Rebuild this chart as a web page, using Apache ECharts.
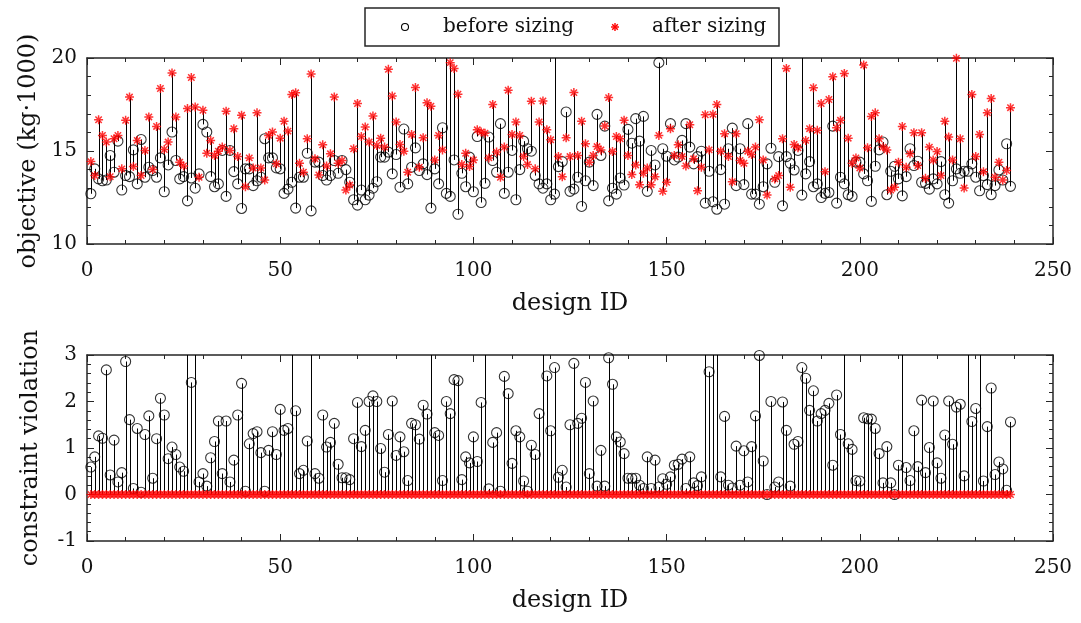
<!DOCTYPE html>
<html><head><meta charset="utf-8">
<script src="https://cdn.jsdelivr.net/npm/echarts@6/dist/echarts.min.js"></script>
<style>html,body{margin:0;padding:0;background:#fff}#c{width:1081px;height:623px}</style>
</head><body><div id="c"></div><script>
// objective (kg·1000) before sizing, design 1..239
const objBefore = [12.7,14.04,13.5,13.4,13.44,14.76,13.86,15.53,12.9,13.68,13.62,15.06,13.23,15.62,13.59,14.13,13.95,13.59,14.63,12.81,
14.25,16.02,14.49,13.5,13.62,12.32,13.55,13.0,13.77,16.43,16.02,13.62,13.08,13.23,15.03,12.56,15.03,13.89,13.23,11.91,
14.04,14.04,13.14,13.4,13.59,15.66,14.63,14.63,14.09,14.04,12.72,12.95,13.32,11.93,13.59,13.59,14.88,11.78,14.4,14.4,
13.68,13.44,13.68,14.49,13.8,14.49,14.0,13.32,12.38,12.09,12.9,12.38,12.63,13.0,13.35,14.67,14.67,14.94,13.77,14.81,
13.05,16.18,13.23,14.13,15.17,13.95,14.31,13.73,11.93,14.04,13.23,16.25,12.72,12.56,14.52,11.6,13.8,13.08,14.67,12.81,
15.78,12.23,13.26,15.75,14.49,13.86,16.47,12.72,13.86,15.03,12.38,14.0,15.53,15.12,14.99,13.68,13.23,13.0,13.23,12.38,
12.68,14.16,14.43,17.1,12.83,12.95,13.59,12.02,13.4,14.4,13.14,16.97,14.76,16.34,12.32,13.0,12.68,13.55,13.17,16.16,
15.42,16.74,15.53,16.86,12.83,15.03,14.25,19.75,15.12,14.72,16.47,14.52,14.67,15.57,16.47,15.21,14.31,14.7,14.99,12.2,
13.91,12.27,11.87,14.0,12.14,15.12,16.23,13.14,15.12,13.19,16.47,12.68,12.68,12.14,13.08,14.31,15.15,13.32,14.7,12.05,
14.7,14.34,13.98,15.03,12.63,13.77,14.43,13.08,13.23,12.5,12.72,12.77,16.34,12.2,13.59,13.23,12.65,12.56,14.4,14.4,
13.77,13.4,12.29,14.18,15.06,15.48,12.65,13.91,14.18,13.5,12.59,13.62,15.12,14.22,14.45,13.32,13.26,12.95,13.5,13.23,
14.43,12.65,12.2,13.4,14.04,13.8,13.91,13.91,14.31,13.59,12.86,13.68,13.19,12.65,13.14,13.98,13.44,15.39,13.1];
// objective after sizing (values above 20 are cut off by the axis)
const objAfter = [14.43,13.68,16.68,15.84,15.48,13.62,15.66,15.84,14.04,16.65,17.9,14.16,15.57,13.68,15.03,16.83,14.0,16.32,18.36,15.08,
15.48,19.2,16.83,14.4,14.2,17.28,18.95,17.37,13.59,17.19,14.88,15.57,14.76,14.99,15.21,17.14,15.03,16.2,14.7,16.92,
13.08,14.63,14.09,17.05,14.09,13.44,15.84,16.02,14.31,15.69,16.6,16.07,18.04,18.13,14.34,13.86,15.66,19.14,14.58,13.71,
15.33,14.2,14.85,17.9,14.34,14.49,12.9,13.17,15.12,17.55,15.78,16.29,15.48,16.88,15.3,15.69,15.21,19.39,17.96,16.56,
15.35,14.99,13.86,15.89,18.41,14.13,15.71,17.59,17.41,14.52,15.84,15.06,22,19.75,19.44,18.05,14.27,14.88,14.16,14.52,
16.14,16.02,15.96,14.63,17.5,14.94,13.59,15.21,18.27,15.89,16.56,15.84,14.7,14.27,17.68,14.04,16.56,17.69,16.14,15.6,
22,14.7,13.62,15.71,14.7,18.14,14.76,16.6,15.39,14.4,14.76,15.24,15.06,16.34,17.87,14.97,15.78,15.66,16.65,14.76,
13.73,14.25,13.19,13.8,14.09,13.19,13.62,15.84,12.83,13.32,16.2,14.76,15.33,14.7,14.2,16.41,14.58,12.86,14.13,16.95,
15.06,16.97,17.5,14.99,15.93,14.7,13.35,15.93,14.49,14.34,14.99,14.81,15.21,16.68,14.52,12.63,22,13.5,13.68,15.66,
19.44,13.05,15.35,15.17,22,15.57,16.2,18.4,16.11,17.55,13.89,17.77,18.99,16.25,16.65,19.17,15.69,14.34,14.63,14.09,
19.62,15.17,16.86,17.05,15.66,15.21,15.06,12.9,13.05,14.4,16.32,14.13,14.85,15.98,14.22,15.98,13.53,15.21,14.52,14.97,
13.68,16.6,15.75,14.52,19.98,15.66,13.01,22,18.04,14.7,15.89,13.89,17.06,17.82,13.59,14.4,13.44,13.95,17.33];
// constraint violation before sizing (values above 3 are cut off by the axis)
const cvBefore = [0.59,0.81,1.26,1.21,2.68,0.42,1.17,0.27,0.47,2.86,1.61,0.13,1.42,0.05,1.29,1.69,0.35,1.2,2.07,1.71,
0.77,1.02,0.86,0.59,0.5,3.8,2.41,3.5,0.27,0.45,0.18,0.79,1.14,1.58,0.45,1.58,0.27,0.74,1.71,2.39,
0.07,1.09,1.31,1.35,0.9,0.07,0.95,1.35,0.86,1.83,1.38,1.42,3.6,1.8,0.45,0.52,1.15,3.5,0.45,0.35,
1.71,1.02,1.12,1.53,0.65,0.36,0.36,0.32,1.2,1.98,1.03,1.38,2.0,2.12,2.0,0.99,0.48,1.29,2.01,0.84,
1.24,0.92,0.3,1.53,1.5,1.19,1.92,1.73,3.4,1.33,1.27,0.3,2.0,1.74,2.47,2.45,0.32,0.81,0.68,1.24,
0.71,1.98,3.5,0.12,1.12,1.33,0.07,2.54,2.17,0.67,1.37,1.24,0.29,0.07,1.06,0.86,1.74,3.3,2.55,1.37,
2.73,0.37,0.52,0.16,1.5,2.82,1.53,1.64,2.41,0.45,2.01,0.18,0.95,0.18,2.94,2.37,1.24,1.13,0.88,0.35,
0.35,0.35,0.2,0.13,0.81,0.13,0.74,0.16,0.34,0.22,0.38,0.63,0.65,0.76,0.13,0.81,0.25,0.19,0.38,3.5,
2.64,3.3,3.6,0.38,1.68,0.2,0.14,1.04,0.2,0.94,0.27,1.03,1.69,2.99,0.72,0,2.0,0.16,0.27,1.99,
1.38,0.18,1.08,1.14,2.73,2.5,1.81,2.23,1.58,1.74,1.81,1.96,0.63,2.14,1.29,3.4,1.09,0.97,0.3,0.29,
1.65,1.63,1.62,1.42,0.88,0.25,1.03,0.25,0,0.63,3.5,0.58,0.3,1.37,0.6,2.03,0.47,1.01,2.01,0.68,
0.35,1.28,2.01,1.08,1.88,1.94,0.4,3.5,1.57,1.85,3.4,0.29,1.46,2.29,0.43,0.7,0.55,0.09,1.56];
// constraint violation after sizing
const cvAfter = [0,0,0,0,0,0,0,0,0,0,0,0,0,0,0,0,0,0,0,0,0,0,0,0,0,0,0,0,0,0,0,0,0,0,0,0,0,0,0,0,
0,0,0,0,0,0,0,0,0,0,0,0,0,0,0,0,0,0,0,0,0,0,0,0,0,0,0,0,0,0,0,0,0,0,0,0,0,0,0,0,
0,0,0,0,0,0,0,0,0,0,0,0,0,0,0,0,0,0,0,0,0,0,0,0,0,0,0,0,0,0,0,0,0,0,0,0,0,0,0,0,
0,0,0,0,0,0,0,0,0,0,0,0,0,0,0,0,0,0,0,0,0,0,0,0,0,0,0,0,0,0,0,0,0,0,0,0,0,0,0,0,
0,0,0,0,0,0,0,0,0,0,0,0,0,0,0,0,0,0,0,0,0,0,0,0,0,0,0,0,0,0,0,0,0,0,0,0,0,0,0,0,
0,0,0,0,0,0,0,0,0,0,0,0,0,0,0,0,0,0,0,0,0,0,0,0,0,0,0,0,0,0,0,0,0,0,0,0,0,0,0];
const designIds = objBefore.map((_, i) => i + 1);
const seriesNames = ['before sizing', 'after sizing'];
const xTicks = [0, 250, 50];          // min, max, step
const objTicks = [10, 20, 5];
const cvTicks = [-1, 3, 1];

const F = 'DejaVu Serif';
const AX = '#262626';
const ASTER = 'path://M0,-5L0,5M-5,0L5,0M-3.54,-3.54L3.54,3.54M-3.54,3.54L3.54,-3.54';

function xAxesFor(gi) {
  const base = {type:'value', gridIndex:gi, min:xTicks[0], max:xTicks[1], interval:xTicks[2],
    axisLine:{show:true, onZero:false, lineStyle:{color:AX, width:1.5}},
    axisTick:{inside:true, length:7, lineStyle:{color:AX, width:1}},
    minorTick:{show:true, splitNumber:5, length:4, lineStyle:{color:AX, width:1}},
    splitLine:{show:false}, minorSplitLine:{show:false}};
  return [
    Object.assign({}, base, {position:'bottom', name:'design ID', nameLocation:'middle', nameGap:48,
      nameTextStyle:{fontFamily:F, fontSize:24, color:'#111'},
      axisLabel:{fontFamily:F, fontSize:20, color:'#111', margin:17}}),
    Object.assign({}, base, {position:'top', axisLabel:{show:false}})
  ];
}
function yAxesFor(gi, t, name, nameGap) {
  const base = {type:'value', gridIndex:gi, min:t[0], max:t[1], interval:t[2],
    axisLine:{show:true, onZero:false, lineStyle:{color:AX, width:1.5}},
    axisTick:{inside:true, length:7, lineStyle:{color:AX, width:1}},
    minorTick:{show:true, splitNumber:5, length:4, lineStyle:{color:AX, width:1}},
    splitLine:{show:false}, minorSplitLine:{show:false}};
  return [
    Object.assign({}, base, {position:'left', name:name, nameLocation:'middle', nameGap:nameGap,
      nameTextStyle:{fontFamily:F, fontSize:24, color:'#111'},
      axisLabel:{fontFamily:F, fontSize:20, color:'#111', margin:10}}),
    Object.assign({}, base, {position:'right', axisLabel:{show:false}})
  ];
}
function stems(gi, before, after) {
  return {type:'custom', xAxisIndex:gi*2, yAxisIndex:gi*2, clip:true, silent:true, z:1,
    data: designIds.map((d, i) => [d, before[i], after[i]]),
    encode:{x:0, y:[1, 2]},
    renderItem: (params, api) => {
      const p1 = api.coord([api.value(0), api.value(1)]);
      const p2 = api.coord([api.value(0), api.value(2)]);
      const x = Math.round(p1[0]) + 0.5;
      return {type:'line', shape:{x1:x, y1:p1[1], x2:x, y2:p2[1]},
        style:{stroke:'#000', lineWidth:1}};
    }};
}
function circles(gi, vals) {
  return {name:seriesNames[0], type:'scatter', xAxisIndex:gi*2, yAxisIndex:gi*2, silent:true, z:3,
    data: designIds.map((d, i) => [d, vals[i]]), symbol:'circle', symbolSize:10,
    itemStyle:{color:'rgba(255,255,255,0)', borderColor:'#000', borderWidth:1.1}};
}
function stars(gi, vals) {
  return {name:seriesNames[1], type:'scatter', xAxisIndex:gi*2, yAxisIndex:gi*2, silent:true, z:4,
    data: designIds.map((d, i) => [d, vals[i]]), symbol:ASTER, symbolSize:9, symbolKeepAspect:true,
    itemStyle:{color:'#ff0000', borderColor:'#ff0000', borderWidth:1.5}};
}
function asteriskIcon(cx, cy, r) {
  const d = r * 0.707;
  const seg = (x1, y1, x2, y2) => ({type:'line', z:12, shape:{x1:cx+x1, y1:cy+y1, x2:cx+x2, y2:cy+y2},
    style:{stroke:'#ff0000', lineWidth:1.4}});
  return [seg(0,-r,0,r), seg(-r,0,r,0), seg(-d,-d,d,d), seg(-d,d,d,-d)];
}

const chart = echarts.init(document.getElementById('c'), null, {renderer:'canvas'});
chart.setOption({
  animation:false,
  backgroundColor:'#fff',
  graphic:[
    {type:'rect', shape:{x:365, y:8, width:414, height:38}, z:10,
      style:{fill:'#fff', stroke:AX, lineWidth:1.5}},
    {type:'circle', shape:{cx:405, cy:27, r:3.5}, z:11,
      style:{fill:'rgba(0,0,0,0)', stroke:'#000', lineWidth:1.1}},
    {type:'text', x:443, y:27, z:11,
      style:{text:seriesNames[0], font:'20px "DejaVu Serif"', fill:'#111', verticalAlign:'middle'}},
    ...asteriskIcon(615, 27, 4),
    {type:'text', x:652, y:27, z:11,
      style:{text:seriesNames[1], font:'20px "DejaVu Serif"', fill:'#111', verticalAlign:'middle'}}
  ],
  grid:[{left:87, right:28, top:58, height:186}, {left:87, right:28, top:355, height:186}],
  xAxis:[...xAxesFor(0), ...xAxesFor(1)],
  yAxis:[...yAxesFor(0, objTicks, 'objective (kg·1000)', 44), ...yAxesFor(1, cvTicks, 'constraint violation', 44)],
  series:[
    stems(0, objBefore, objAfter), circles(0, objBefore), stars(0, objAfter),
    stems(1, cvBefore, cvAfter), circles(1, cvBefore), stars(1, cvAfter)
  ]
});
</script></body></html>
